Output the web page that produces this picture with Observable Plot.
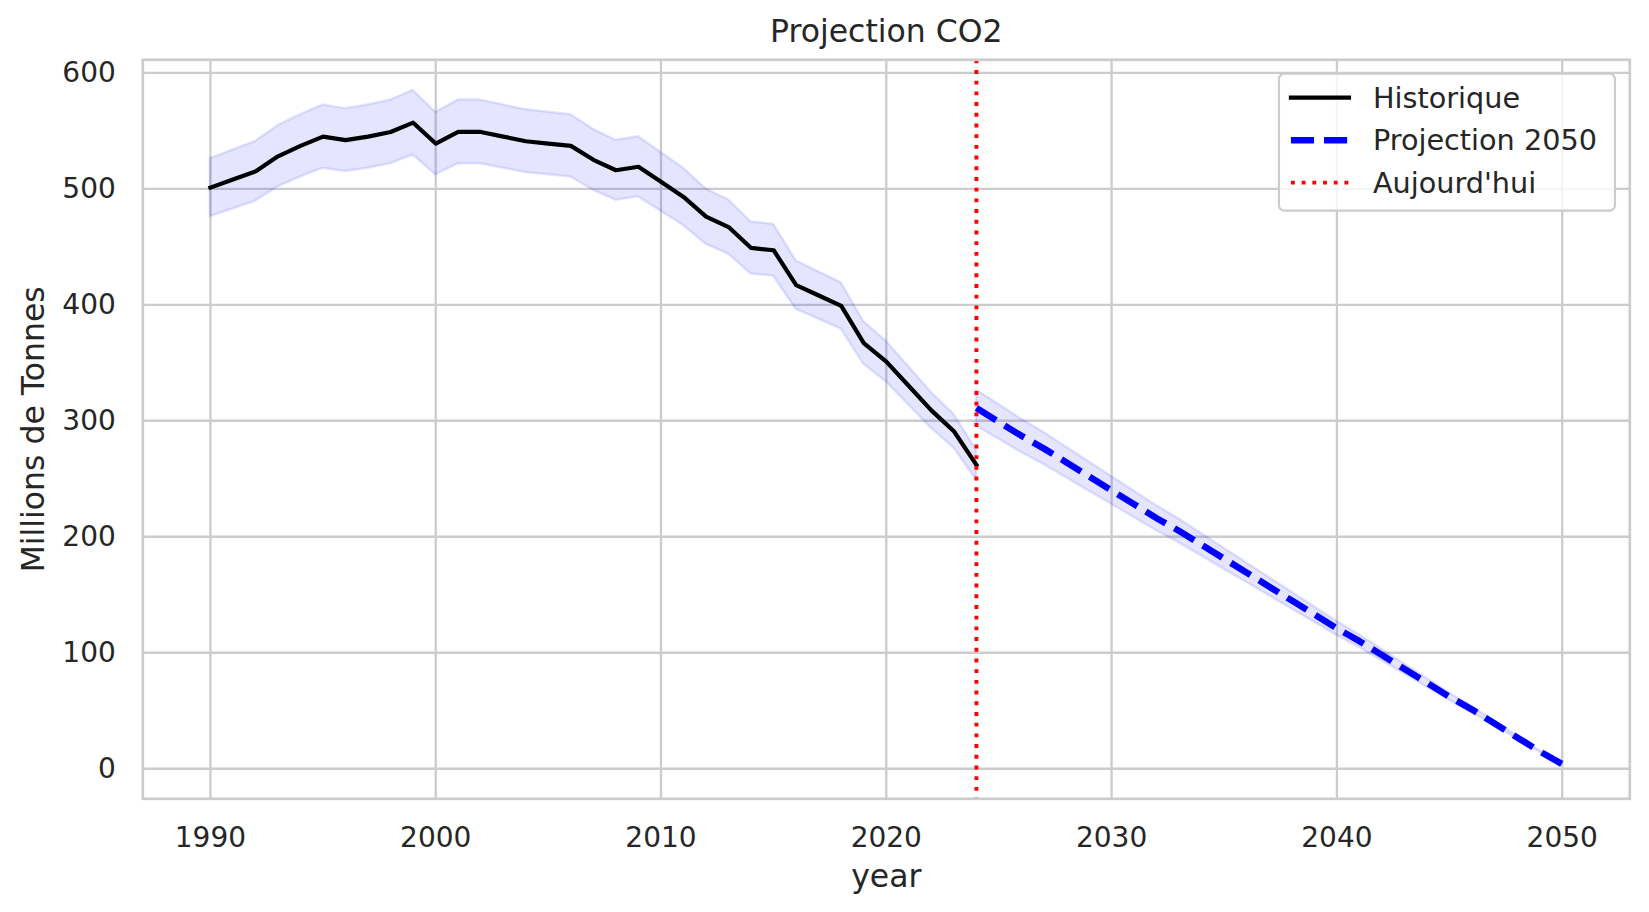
<!DOCTYPE html>
<html><head><meta charset="utf-8">
<script src="https://cdn.jsdelivr.net/npm/d3@7"></script>
<script src="https://cdn.jsdelivr.net/npm/@observablehq/plot@0.6"></script>
<style>body{margin:0;background:#fff;} #chart{width:1649px;height:912px;}</style>
</head><body><div id="chart"></div>
<script>
// ---- data ----
const histYears = [1990,1991,1992,1993,1994,1995,1996,1997,1998,1999,2000,2001,2002,2003,2004,2005,2006,2007,2008,2009,2010,2011,2012,2013,2014,2015,2016,2017,2018,2019,2020,2021,2022,2023,2024];
const histValues = [501,508,515,528,537,545,542,545,549,557,539,549,549,545,541,539,537,525,516,519,506,493,476,467,449,447,417,408,399,367,351,330,309,291,262];
const projYears = [2024,2025,2026,2027,2028,2029,2030,2031,2032,2033,2034,2035,2036,2037,2038,2039,2040,2041,2042,2043,2044,2045,2046,2047,2048,2049,2050];
const projValues = [311,299,287,276,264,252,240,228,216,205,193,181,169,157,145,133,121,110,98,86,74,62,51,39,27,15,4];
const bandPct = 0.05;
const todayYear = 2024;
const xTicks = [1990,2000,2010,2020,2030,2040,2050];
const yTicks = [0,100,200,300,400,500,600];
const titleText = "Projection CO2";
const xLabel = "year";
const yLabel = "Millions de Tonnes";
const legendLabels = ["Historique","Projection 2050","Aujourd'hui"];

const hist = histYears.map((year, i) => ({year, value: histValues[i]}));
const proj = projYears.map((year, i) => ({year, value: projValues[i]}));

const W = 1649, H = 912, mL = 142.3, mR = 19.7, mT = 59.3, mB = 113.7;
const font = "'DejaVu Sans', sans-serif";
const textColor = "#262626";
const gridColor = "#cccccc";

const chart = Plot.plot({
  width: W, height: H,
  marginLeft: mL, marginRight: mR, marginTop: mT, marginBottom: mB,
  style: {fontFamily: font, background: "#fff", color: textColor, overflow: "visible"},
  x: {domain: [1987, 2053]},
  y: {domain: [-25.9, 611.2]},
  marks: [
    Plot.gridX(xTicks, {stroke: gridColor, strokeOpacity: 1, strokeWidth: 2.3}),
    Plot.gridY(yTicks, {stroke: gridColor, strokeOpacity: 1, strokeWidth: 2.3}),
    Plot.areaY(hist, {x: "year", y1: d => d.value * (1 - bandPct), y2: d => d.value * (1 + bandPct),
      fill: "blue", fillOpacity: 0.1, stroke: "blue", strokeOpacity: 0.1, strokeWidth: 2.5}),
    Plot.areaY(proj, {x: "year", y1: d => d.value * (1 - bandPct), y2: d => d.value * (1 + bandPct),
      fill: "blue", fillOpacity: 0.1, stroke: "blue", strokeOpacity: 0.1, strokeWidth: 2.5}),
    Plot.line(hist, {x: "year", y: "value", stroke: "black", strokeWidth: 4.2, strokeLinejoin: "round", strokeLinecap: "square"}),
    Plot.line(proj, {x: "year", y: "value", stroke: "blue", strokeWidth: 6.5, strokeDasharray: "23.1,10", strokeLinecap: "butt"}),
    Plot.ruleX([todayYear], {stroke: "red", strokeWidth: 3.9, strokeDasharray: "3.9,6.8", strokeLinecap: "butt"}),
    Plot.frame({stroke: gridColor, strokeWidth: 2.7}),
    Plot.axisX(xTicks, {tickSize: 0, tickPadding: 28, fontSize: 28, label: null, tickFormat: d => String(d)}),
    Plot.axisY(yTicks, {tickSize: 0, tickPadding: 27, fontSize: 28, label: null}),
    Plot.text([xLabel], {frameAnchor: "bottom", dy: 87.7, lineAnchor: "bottom", fontSize: 31.5, fill: textColor}),
    Plot.text([yLabel], {frameAnchor: "left", dx: -99, rotate: -90, textAnchor: "middle", lineAnchor: "bottom", fontSize: 31.5, fill: textColor}),
    Plot.text([titleText], {frameAnchor: "top", dy: -17.5, lineAnchor: "bottom", fontSize: 31.5, fill: textColor})
  ]
});
document.getElementById("chart").append(chart);

// ---- legend ----
const svg = d3.select(chart);
const fs = 28.7;
const pad = 0.5 * fs;
const boxRight = W - mR - pad, boxTop = mT + pad;
const boxW = 336, boxH = 137;
const boxLeft = boxRight - boxW;
const g = svg.append("g").attr("font-family", font).attr("text-anchor", "start");
g.append("rect").attr("x", boxLeft).attr("y", boxTop).attr("width", boxW).attr("height", boxH)
  .attr("rx", 5.5).attr("fill", "white").attr("fill-opacity", 0.8).attr("stroke", gridColor).attr("stroke-width", 2.2);
const styles = [
  {stroke: "black", width: 4.2, dash: null, cap: "square"},
  {stroke: "blue", width: 6.5, dash: "23.1,10", cap: "butt"},
  {stroke: "red", width: 3.9, dash: "3.9,6.8", cap: "butt"}
];
legendLabels.forEach((lab, i) => {
  const cy = boxTop + 24 + i * 42.5;
  const s = styles[i];
  const ln = g.append("line").attr("x1", boxLeft + 12).attr("x2", boxLeft + 12 + 58).attr("y1", cy).attr("y2", cy)
    .attr("stroke", s.stroke).attr("stroke-width", s.width).attr("stroke-linecap", s.cap);
  if (s.dash) ln.attr("stroke-dasharray", s.dash);
  g.append("text").attr("x", boxLeft + 94).attr("y", cy).attr("dy", "0.36em").attr("text-anchor", "start")
    .attr("font-size", fs).attr("fill", textColor).text(lab);
});
</script>
</body></html>
